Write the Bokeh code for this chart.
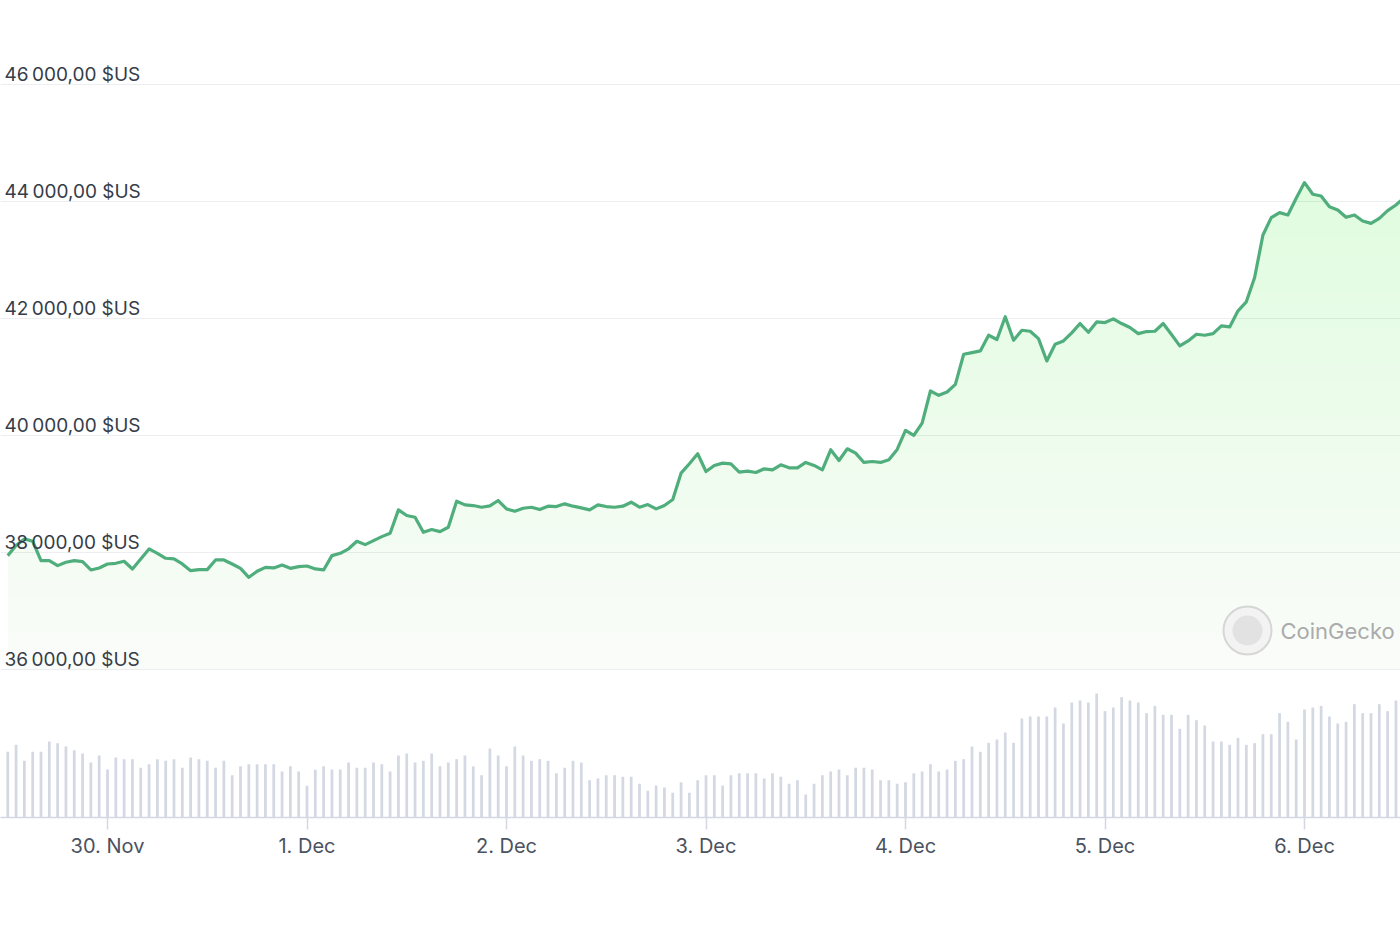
import numpy as np
import pandas as pd
from bokeh.plotting import figure
from bokeh.models import Range1d, FixedTicker
from bokeh.core.properties import value
from bokeh.embed import file_html
from bokeh.resources import INLINE

# ---------------- data ----------------
price = [
    37943, 38115, 38229, 38189, 37858, 37858, 37772, 37829, 37858, 37840,
    37698, 37732, 37800, 37812, 37846, 37715, 37886, 38058, 37983, 37898,
    37886, 37800, 37686, 37703, 37703, 37869, 37869, 37800, 37726, 37572,
    37675, 37743, 37732, 37783, 37726, 37755, 37766, 37715, 37698, 37943,
    37983, 38060, 38189, 38131, 38200, 38268, 38326, 38726, 38629, 38600,
    38343, 38389, 38354, 38429, 38874, 38811, 38800, 38771, 38794, 38886,
    38743, 38703, 38754, 38771, 38731, 38789, 38783, 38829, 38789, 38760,
    38726, 38811, 38783, 38771, 38789, 38857, 38771, 38817, 38743, 38800,
    38903, 39354, 39514, 39686, 39383, 39486, 39526, 39514, 39371, 39388,
    39366, 39428, 39411, 39497, 39446, 39446, 39537, 39486, 39411, 39754,
    39571, 39771, 39697, 39537, 39554, 39537, 39583, 39760, 40086, 40000,
    40211, 40760, 40686, 40743, 40874, 41388, 41417, 41445, 41714, 41640,
    42030, 41628, 41799, 41782, 41656, 41274, 41559, 41616, 41754, 41914,
    41765, 41942, 41931, 41994, 41914, 41845, 41742, 41777, 41782, 41914,
    41725, 41531, 41616, 41731, 41714, 41742, 41874, 41856, 42131, 42285,
    42702, 43428, 43725, 43811, 43771, 44056, 44325, 44125, 44096, 43913,
    43856, 43731, 43771, 43668, 43628, 43714, 43845, 43942, 44070,
]

volume = [
    197, 218, 170, 197, 197, 228, 223, 213, 202, 192,
    165, 186, 144, 180, 175, 175, 149, 160, 175, 170,
    175, 149, 180, 175, 170, 149, 170, 127, 154, 160,
    160, 160, 160, 138, 154, 138, 95, 143, 154, 144,
    144, 165, 149, 149, 165, 160, 138, 186, 192, 165,
    170, 192, 154, 165, 175, 186, 154, 127, 207, 186,
    154, 213, 186, 170, 175, 170, 133, 149, 170, 165,
    112, 117, 127, 127, 122, 122, 101, 80, 96, 90,
    74, 106, 74, 112, 127, 127, 96, 127, 133, 133,
    133, 117, 133, 122, 101, 112, 69, 101, 127, 138,
    144, 127, 149, 149, 144, 112, 112, 101, 106, 133,
    138, 160, 138, 144, 170, 175, 213, 197, 224, 234,
    255, 224, 297, 303, 303, 303, 330, 282, 345, 351,
    345, 372, 319, 330, 361, 351, 345, 313, 335, 308,
    308, 266, 308, 292, 276, 228, 228, 218, 239, 218,
    223, 250, 250, 313, 287, 234, 324, 330, 335, 303,
    282, 287, 340, 313, 313, 340, 319, 351,
]

ytick_values = [36000, 38000, 40000, 42000, 44000, 46000]
ytick_labels = ["36\u202f000,00 $US", "38\u202f000,00 $US", "40\u202f000,00 $US",
                "42\u202f000,00 $US", "44\u202f000,00 $US", "46\u202f000,00 $US"]
xtick_dates = ["2023-11-30", "2023-12-01", "2023-12-02", "2023-12-03",
               "2023-12-04", "2023-12-05", "2023-12-06"]
xtick_labels = ["30. Nov", "1. Dec", "2. Dec", "3. Dec", "4. Dec", "5. Dec", "6. Dec"]

start_time = "2023-11-29 12:00"

# ---------------- build ----------------
t_price = pd.date_range(start_time, periods=len(price), freq="h")
t_vol = pd.date_range(start_time, periods=len(volume), freq="h")
price_arr = np.array(price, dtype=float)

W, H = 1400, 932
FRAME_H = 817
PX_MS = 3600000 / 8.3125            # ms per horizontal pixel
x0 = pd.Timestamp(xtick_dates[0]) - pd.Timedelta(milliseconds=107 * PX_MS)
x1 = x0 + pd.Timedelta(milliseconds=W * PX_MS)

PX_PER_1000 = 58.45
y_top = 36000 + 668.7 / PX_PER_1000 * 1000
y_bot = 36000 - (FRAME_H - 668.7) / PX_PER_1000 * 1000

p = figure(width=W, height=H, x_axis_type="datetime",
           x_range=Range1d(x0, x1), y_range=Range1d(y_bot, y_top),
           output_backend="svg", toolbar_location=None,
           min_border_left=0, min_border_right=0, min_border_top=0,
           min_border_bottom=H - FRAME_H,
           outline_line_color=None, background_fill_color="white",
           border_fill_color="white")

p.extra_y_ranges = {"vol": Range1d(0, FRAME_H * 3)}

# grid
p.xgrid.visible = False
p.ygrid.ticker = FixedTicker(ticks=ytick_values)
p.ygrid.grid_line_color = "#eceef1"
p.ygrid.grid_line_width = 1
p.yaxis.visible = False

# volume bars
p.vbar(x=t_vol, top=volume, bottom=0, width=0.33 * 3600000,
       y_range_name="vol", fill_color="#d3d8e2", line_color=None)

# gradient fill under the price line (stacked translucent layers)
FILL = "#9dc488"
base = 36000.0
p.varea(x=t_price, y1=base, y2=np.maximum(price_arr, base),
        fill_color=FILL, fill_alpha=0.05)
levels = np.linspace(36000, 44300, 28)[1:]
for lv in levels:
    p.varea(x=t_price, y1=lv, y2=np.maximum(price_arr, lv),
            fill_color=FILL, fill_alpha=0.0098)

# price line
p.line(t_price, price_arr, line_color="#4fae7c", line_width=3.2,
       line_join="round")

# y labels inside plot, above grid lines
xl = x0 + pd.Timedelta(milliseconds=4 * PX_MS)
p.text(x=[xl] * len(ytick_values), y=ytick_values, text=ytick_labels,
       text_font=value("Inter"), text_font_size="19px",
       text_color="#363c48", text_baseline="alphabetic", text_align="left",
       y_offset=-10)

# watermark
wx = x0 + pd.Timedelta(milliseconds=1247 * PX_MS)
wy = 36000 + (668.7 - 630) / PX_PER_1000 * 1000
p.scatter(x=[wx], y=[wy], size=48, fill_color="#f3f3f3",
          line_color="#d6d6d6", line_width=2)
p.scatter(x=[wx], y=[wy], size=30, fill_color="#e2e2e2",
          line_color=None, marker="circle")
tx = x0 + pd.Timedelta(milliseconds=1280 * PX_MS)
p.text(x=[tx], y=[wy], text=["CoinGecko"], text_font=value("Inter"),
       text_font_size="22px", text_color="#ababab",
       text_baseline="middle", text_align="left")

# x axis
tick_ms = [int(pd.Timestamp(d).value // 10**6) for d in xtick_dates]
p.xaxis.ticker = FixedTicker(ticks=tick_ms)
p.xaxis.major_label_overrides = {t: l for t, l in zip(tick_ms, xtick_labels)}
p.xaxis.axis_line_color = "#d3d8e2"
p.xaxis.axis_line_width = 1.5
p.xaxis.major_tick_line_color = "#d3d8e2"
p.xaxis.major_tick_line_width = 1.5
p.xaxis.major_tick_out = 12
p.xaxis.major_tick_in = 0
p.xaxis.minor_tick_line_color = None
p.xaxis.major_label_standoff = 4
p.xaxis.major_label_text_font = "Inter"
p.xaxis.major_label_text_font_size = "20px"
p.xaxis.major_label_text_color = "#4b5260"

open("out.html", "w").write(file_html(p, INLINE))
